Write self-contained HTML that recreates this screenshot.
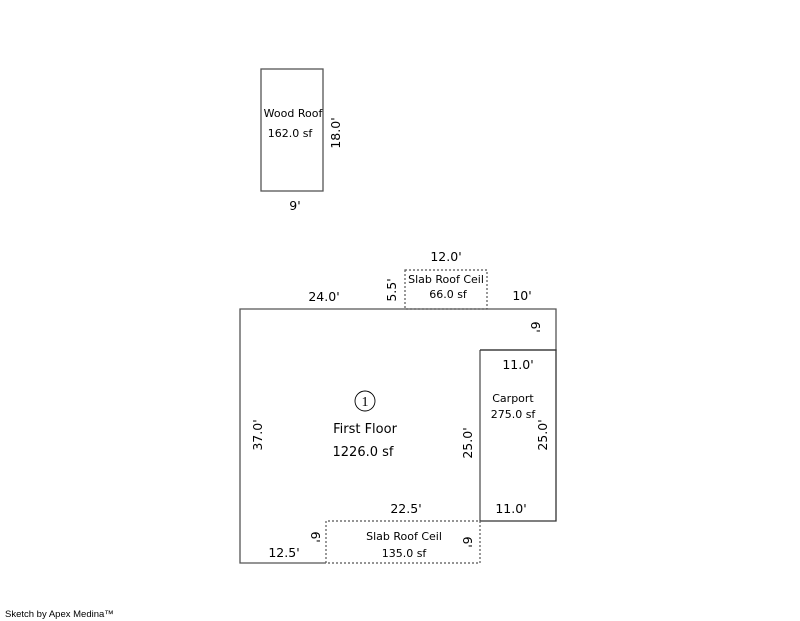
<!DOCTYPE html>
<html><head><meta charset="utf-8"><style>html,body{margin:0;padding:0;background:#fff}svg{display:block}</style></head>
<body>
<svg width="800" height="621" viewBox="0 0 800 621" xmlns="http://www.w3.org/2000/svg" font-family="'DejaVu Sans','Liberation Sans',sans-serif" fill="#000">
<g fill="none" stroke="#555" stroke-width="1.3">
<rect x="261" y="69" width="62" height="122"/>
<path d="M326 563 H240 V309 H556 V350 H480 M480 350 V521"/>
<path d="M480 350 H556 V521 H480" stroke="#333"/>
</g>
<g fill="none" stroke="#555" stroke-width="1.2" stroke-dasharray="2,2">
<rect x="405" y="270" width="82" height="39"/>
<path d="M326 563 V521 H480 V563 H326"/>
</g>
<circle cx="365" cy="401" r="10" fill="none" stroke="#000" stroke-width="0.9"/>
<text x="365" y="406" font-family="'Liberation Serif',serif" font-size="14" text-anchor="middle">1</text>
<g font-size="12.5">
<text x="295" y="210" text-anchor="middle">9'</text>
<text x="446" y="261" text-anchor="middle">12.0'</text>
<text x="324" y="301" text-anchor="middle">24.0'</text>
<text x="522" y="300" text-anchor="middle">10'</text>
<text x="518" y="369" text-anchor="middle">11.0'</text>
<text x="406" y="513" text-anchor="middle">22.5'</text>
<text x="511" y="513" text-anchor="middle">11.0'</text>
<text x="284" y="557" text-anchor="middle">12.5'</text>
<text transform="translate(340,133) rotate(-90)" text-anchor="middle">18.0'</text>
<text transform="translate(396,290) rotate(-90)" text-anchor="middle">5.5'</text>
<text transform="translate(262,435) rotate(-90)" text-anchor="middle">37.0'</text>
<text transform="translate(472,443) rotate(-90)" text-anchor="middle">25.0'</text>
<text transform="translate(547,435) rotate(-90)" text-anchor="middle">25.0'</text>
<text transform="translate(531,327) rotate(90)" text-anchor="middle">6'</text>
<text transform="translate(311,537) rotate(90)" text-anchor="middle">6'</text>
<text transform="translate(463,542) rotate(90)" text-anchor="middle">6'</text>
<text x="365" y="433" text-anchor="middle" font-size="13">First Floor</text>
<text x="363" y="456" text-anchor="middle" font-size="13">1226.0 sf</text>
</g>
<g font-size="11">
<text x="293" y="117" text-anchor="middle">Wood Roof</text>
<text x="290" y="137" text-anchor="middle">162.0 sf</text>
<text x="446" y="283" text-anchor="middle">Slab Roof Ceil</text>
<text x="448" y="298" text-anchor="middle">66.0 sf</text>
<text x="513" y="402" text-anchor="middle">Carport</text>
<text x="513" y="418" text-anchor="middle">275.0 sf</text>
<text x="404" y="540" text-anchor="middle">Slab Roof Ceil</text>
<text x="404" y="557" text-anchor="middle">135.0 sf</text>
</g>
<text x="5" y="617" font-family="'Liberation Sans',sans-serif" font-size="9.5">Sketch by Apex Medina™</text>
</svg>
</body></html>
